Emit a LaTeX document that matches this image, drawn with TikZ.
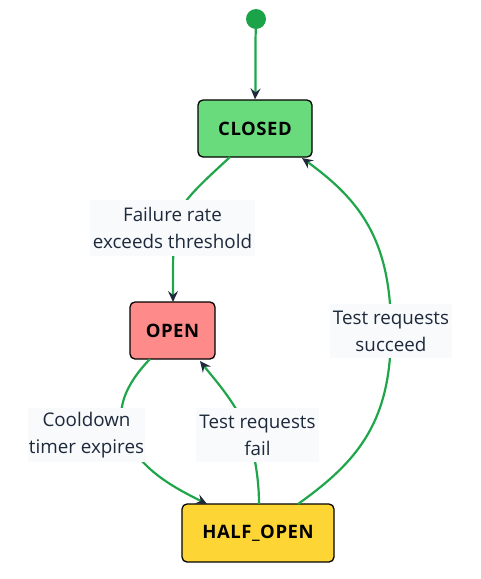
\documentclass[tikz,border=0pt]{standalone}
\usepackage{fontspec}
\setmainfont{Open Sans}
\newfontfamily\boxfont[LetterSpace=3]{Open Sans}
\usetikzlibrary{arrows.meta}
\definecolor{edgegreen}{HTML}{1FA64A}
\definecolor{tipnavy}{HTML}{1E293B}
\definecolor{labelbg}{HTML}{F8FAFC}
\definecolor{closedfill}{HTML}{6ADB7D}
\definecolor{openfill}{HTML}{FF8A8A}
\definecolor{halffill}{HTML}{FDD535}
\definecolor{startfill}{HTML}{1BA34A}
\tikzset{
  statebox/.style={draw=black, line width=1.3pt, rounded corners=5pt, inner sep=0pt, font=\boxfont\fontsize{18.5}{20}\selectfont\bfseries, text=black},
  edgelabel/.style={fill=labelbg, text=tipnavy, align=center, inner sep=0pt, font=\fontsize{18.8}{27}\selectfont},
  trans/.style={draw=edgegreen, line width=2.2pt, -{Stealth[length=11pt, width=10pt, inset=4pt, color=tipnavy]}},
  plain/.style={draw=edgegreen, line width=2.2pt}
}
\begin{document}
\begin{tikzpicture}[x=1pt, y=-1pt]
\useasboundingbox (0,0) rectangle (480,579);
% states
\node[circle, fill=startfill, minimum size=20pt, inner sep=0pt] (start) at (256,19) {};
\node[statebox, fill=closedfill, minimum width=114pt, minimum height=57pt] (closed) at (255,128.5) {CLOSED};
\node[statebox, fill=openfill, minimum width=85pt, minimum height=57pt] (open) at (172.5,330.5) {OPEN};
\node[statebox, fill=halffill, minimum width=152pt, minimum height=58pt] (half) at (258,533) {HALF\_OPEN};
% anchor coordinates
\coordinate (c1) at (230,157);
\coordinate (o1) at (173,302);
\coordinate (o2) at (150,359);
\coordinate (o3) at (200,361);
\coordinate (h1) at (207,504);
\coordinate (h2) at (259,504);
\coordinate (h3) at (298,504);
\coordinate (c2) at (302,158);
% transitions
\draw[trans] (start) .. controls (255,60) and (256,80) .. (closed.north);
\draw[plain] (c1) .. controls (200,185) and (176,205) .. (174,228);
\draw[trans] (174,228) .. controls (173,260) .. (o1);
\draw[plain] (o2) .. controls (125,385) and (115,410) .. (125,435);
\draw[trans] (125,435) .. controls (140,470) and (175,488) .. (h1);
\draw[plain] (h2) .. controls (259,480) and (255,455) .. (248,434);
\draw[trans] (248,434) .. controls (238,405) and (215,380) .. (o3);
\draw[plain] (h3) .. controls (360,460) and (391,420) .. (391,331);
\draw[trans] (391,331) .. controls (391,240) and (360,200) .. (c2);
% labels
\node[edgelabel, minimum width=165pt, minimum height=56pt] (l1) at (172.5,228) {Failure rate\\exceeds threshold};
\node[edgelabel, minimum width=117pt, minimum height=54pt] (l2) at (86.5,435) {Cooldown\\timer expires};
\node[edgelabel, minimum width=123pt, minimum height=54pt] (l3) at (257.5,435) {Test requests\\fail};
\node[edgelabel, minimum width=122pt, minimum height=54pt] (l4) at (391,331) {Test requests\\succeed};
\end{tikzpicture}
\end{document}
